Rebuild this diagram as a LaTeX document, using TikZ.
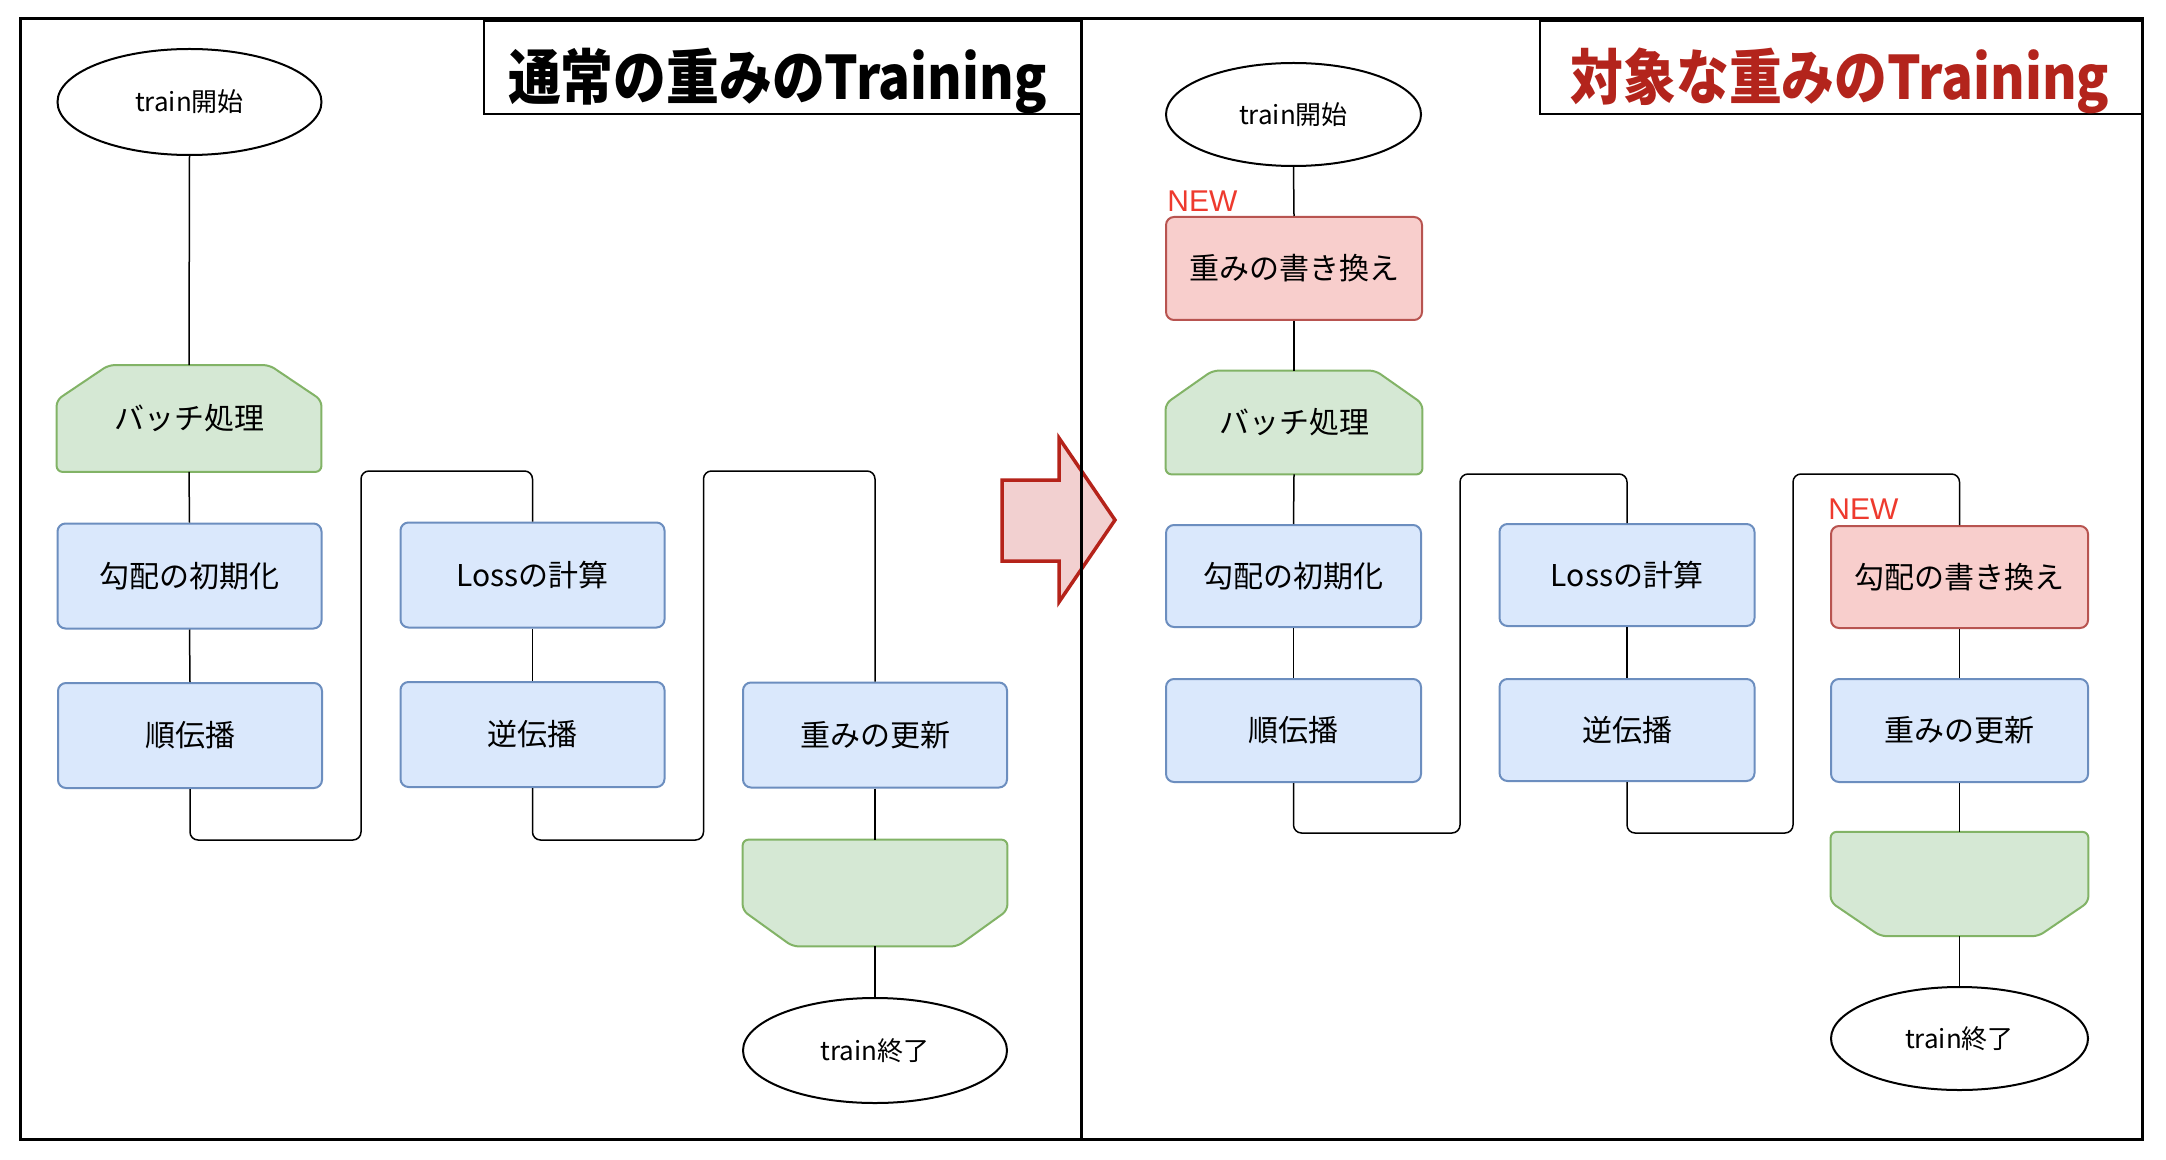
\documentclass[tikz,border=0pt]{standalone}
\usepackage{fontspec}
\setmainfont{Noto Sans CJK JP}
\newfontfamily\titlefont{Noto Sans CJK JP}[FakeStretch=0.88]
\newfontfamily\latinfont{Liberation Sans}
\usetikzlibrary{shapes.geometric,calc,backgrounds}
\definecolor{bluefill}{HTML}{DAE8FC}
\definecolor{blueline}{HTML}{6C8EBF}
\definecolor{greenfill}{HTML}{D5E8D4}
\definecolor{greenline}{HTML}{82B366}
\definecolor{redfill}{HTML}{F8CECC}
\definecolor{redline}{HTML}{B85450}
\definecolor{titlered}{HTML}{B3241C}
\definecolor{newred}{HTML}{EE3A2E}
\definecolor{arrowline}{HTML}{B5231A}
\definecolor{arrowfill}{HTML}{F2D0D0}
\tikzset{
  procbox/.style={draw=blueline, fill=bluefill, line width=1pt, rounded corners=4pt,
    minimum width=132pt, minimum height=52.5pt, inner sep=0pt, font=\fontsize{15}{18}\selectfont},
  newbox/.style={procbox, draw=redline, fill=redfill},
  term/.style={ellipse, draw, line width=1pt, inner sep=0pt, font=\fontsize{13}{16}\selectfont},
  loopnode/.style={inner sep=0pt, font=\fontsize{15}{18}\selectfont},
  loopshape/.style={draw=greenline, fill=greenfill, line width=1pt, rounded corners=3pt},
  conn/.style={line width=0.75pt, rounded corners=4pt},
  newlabel/.style={anchor=base west, inner sep=0pt, text=newred, font=\latinfont\fontsize{15}{18}\selectfont},
  titletext/.style={anchor=base, inner sep=0pt, font=\titlefont\bfseries\fontsize{30}{34}\selectfont},
  titlebox/.style={draw, line width=1pt, inner sep=0pt, minimum height=46.5pt},
  frame/.style={line width=1.5pt}
}
\begin{document}
\begin{tikzpicture}[x=0.5pt,y=-0.5pt]
\useasboundingbox (0,0) rectangle (2166,1160);

% ---------- left flow ----------
\node[term, minimum width=132pt, minimum height=53pt] (s1) at (189.5,102) {train開始};
\node[loopnode, minimum width=132pt, minimum height=53pt] (b1) at (189,418.5) {バッチ処理};
\node[procbox] (i1) at (189.5,576) {勾配の初期化};
\node[procbox] (f1) at (190,735.5) {順伝播};
\node[procbox] (l1) at (532.5,575) {Lossの計算};
\node[procbox] (k1) at (532.5,734.5) {逆伝播};
\node[procbox] (u1) at (875,735) {重みの更新};
\node[loopnode, minimum width=132pt, minimum height=53pt] (e1) at (875,893) {};
\node[term, minimum width=132pt, minimum height=52.5pt] (t1) at (875,1050.5) {train終了};

% ---------- right flow ----------
\node[term, minimum width=127.5pt, minimum height=51.5pt] (s2) at (1293.5,114.5) {train開始};
\node[newbox, minimum width=128pt, minimum height=51.5pt] (r2) at (1294,268.5) {重みの書き換え};
\node[loopnode, minimum width=128pt, minimum height=51.5pt] (b2) at (1294,422.5) {バッチ処理};
\node[procbox, minimum width=127.5pt, minimum height=51pt] (i2) at (1293.5,576) {勾配の初期化};
\node[procbox, minimum width=127.5pt, minimum height=51.5pt] (f2) at (1293.5,730.5) {順伝播};
\node[procbox, minimum width=127.5pt, minimum height=51pt] (l2) at (1627,575) {Lossの計算};
\node[procbox, minimum width=127.5pt, minimum height=51pt] (k2) at (1627,730) {逆伝播};
\node[newbox, minimum width=128.5pt, minimum height=51pt] (g2) at (1959.5,577) {勾配の書き換え};
\node[procbox, minimum width=128.5pt, minimum height=51.5pt] (u2) at (1959.5,730.5) {重みの更新};
\node[loopnode, minimum width=128.5pt, minimum height=51.75pt] (e2) at (1959.5,884) {};
\node[term, minimum width=128.5pt, minimum height=51.5pt] (t2) at (1959.5,1038.5) {train終了};

\node[newlabel] (n1) at (1167,212) {NEW};
\node[newlabel] (n2) at (1828,519) {NEW};

% ---------- loop shapes and page ----------
\begin{scope}[on background layer]
\fill[white] (0,0) rectangle (2166,1160);
\draw[loopshape] ($(b1.north west)+(0,35)$) -- ($(b1.north west)+(52,0)$) -- ($(b1.north east)+(-52,0)$)
  -- ($(b1.north east)+(0,35)$) -- (b1.south east) -- (b1.south west) -- cycle;
\draw[loopshape] ($(b2.north west)+(0,33)$) -- ($(b2.north west)+(47,0)$) -- ($(b2.north east)+(-47,0)$)
  -- ($(b2.north east)+(0,33)$) -- (b2.south east) -- (b2.south west) -- cycle;
\draw[loopshape] (e1.north west) -- (e1.north east) -- ($(e1.south east)+(0,-36)$) -- ($(e1.south east)+(-50,0)$)
  -- ($(e1.south west)+(50,0)$) -- ($(e1.south west)+(0,-36)$) -- cycle;
\draw[loopshape] (e2.north west) -- (e2.north east) -- ($(e2.south east)+(0,-34)$) -- ($(e2.south east)+(-50,0)$)
  -- ($(e2.south west)+(50,0)$) -- ($(e2.south west)+(0,-34)$) -- cycle;
\end{scope}

% ---------- connectors ----------
\coordinate (c1a) at (361,840);
\coordinate (c1b) at (361,471);
\coordinate (c2a) at (703.5,840);
\coordinate (c2b) at (703.5,471);
\coordinate (c3a) at (1460,833);
\coordinate (c3b) at (1460,474);
\coordinate (c4a) at (1793,833);
\coordinate (c4b) at (1793,474);

\draw[conn] (s1.south) -- (b1.north);
\draw[conn] (b1.south) -- (i1.north);
\draw[conn] (i1.south) -- (f1.north);
\draw[conn] (f1.south) |- (c1a) -- (c1b) -| (l1.north);
\draw[conn] (l1.south) -- (k1.north);
\draw[conn] (k1.south) |- (c2a) -- (c2b) -| (u1.north);
\draw[conn] (u1.south) -- (e1.north);
\draw[conn] (e1.south) -- (t1.north);

\draw[conn] (s2.south) -- (r2.north);
\draw[conn] (r2.south) -- (b2.north);
\draw[conn] (b2.south) -- (i2.north);
\draw[conn] (i2.south) -- (f2.north);
\draw[conn] (f2.south) |- (c3a) -- (c3b) -| (l2.north);
\draw[conn] (l2.south) -- (k2.north);
\draw[conn] (k2.south) |- (c4a) -- (c4b) -| (g2.north);
\draw[conn] (g2.south) -- (u2.north);
\draw[conn] (u2.south) -- (e2.north);
\draw[conn] (e2.south) -- (t2.north);

% ---------- big arrow ----------
\draw[line width=1.75pt, draw=arrowline, fill=arrowfill, line join=miter]
  (1002,480) -- (1059,480) -- (1059,438) -- (1115,520) -- (1059,602) -- (1059,561) -- (1002,561) -- cycle;

% ---------- frames and titles ----------
\draw[frame] (20,19) rectangle (1081,1139);
\draw[frame] (1081,19) rectangle (2142,1139);
\node[titlebox, minimum width=298.5pt] (tb1) at (782.5,67.5) {};
\node[titlebox, minimum width=301pt] (tb2) at (1841,67.5) {};
\node[titletext] (tt1) at (777.5,100) {通常の重みのTraining};
\node[titletext, text=titlered] (tt2) at (1840,100) {対象な重みのTraining};
\end{tikzpicture}
\end{document}
